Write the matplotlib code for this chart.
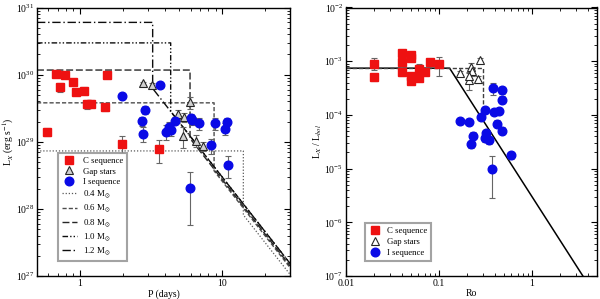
import matplotlib
matplotlib.use("Agg")
import matplotlib.pyplot as plt
import numpy as np
from matplotlib.ticker import FixedLocator, FixedFormatter, LogLocator, NullFormatter

plt.rcParams["font.family"] = "serif"
plt.rcParams["font.serif"] = ["Liberation Serif", "DejaVu Serif"]
plt.rcParams["mathtext.fontset"] = "stix"

# ---- left panel: L_X vs period ----
c_period = [0.588, 0.678, 0.72, 0.788, 0.897, 0.942, 1.07, 1.13, 1.195, 1.51, 1.55, 1.99, 3.62]
c_lx = [1.41e29, 1.03e30, 6.5e29, 9.8e29, 7.8e29, 5.5e29, 5.8e29, 3.6e29, 3.7e29,
        3.3e29, 9.9e29, 9.4e28, 7.8e28]
c_lx_err = [0.15, 0.08, 0.15, 0.08, 0.08, 0.1, 0.12, 0.15, 0.12, 0.12, 0.08, 0.28, 0.38]

gap_period = [2.79, 3.20, 5.98, 4.88, 5.43, 5.34, 6.59, 7.31]
gap_lx = [7.5e29, 6.9e29, 3.9e29, 2.6e29, 2.34e29, 1.23e29, 1.04e29, 8.7e28]
gap_lx_err = [0.05, 0.08, 0.2, 0.15, 0.15, 0.35, 0.2, 0.15]

i_period = [1.97, 2.87, 2.72, 2.80, 3.66, 4.64, 4.01, 4.25, 4.40, 6.08, 6.15, 6.92,
            8.88, 10.8, 10.5, 8.3, 10.97, 5.98]
i_lx = [4.8e29, 3.0e29, 2.04e29, 1.32e29, 7.1e29, 2.06e29, 1.42e29, 1.66e29, 1.51e29,
        2.23e29, 2.08e29, 1.88e29, 1.90e29, 1.99e29, 1.56e29, 8.9e28, 4.5e28, 2.08e28]
i_lx_err = [0.1, 0.15, 0.15, 0.25, 0.08, 0.12, 0.25, 0.2, 0.2, 0.15, 0.15, 0.2, 0.2,
            0.15, 0.2, 0.25, 0.35, 0.72]

# model tracks: saturated level, period of drop, coefficient of P^-2.7 decline
mass_labels = [r"0.4 M$_{\odot}$", r"0.6 M$_{\odot}$", r"0.8 M$_{\odot}$",
               r"1.0 M$_{\odot}$", r"1.2 M$_{\odot}$"]
l_sat = [7.3e28, 3.8e29, 1.17e30, 2.97e30, 6.0e30]
p_sat = [14.1, 8.78, 5.95, 4.35, 3.25]
decl_coef = [1.03e31, 1.3e31, 1.38e31, 1.5e31, 1.5e31]
decl_index = -2.7

# ---- right panel: L_X/L_bol vs Rossby number ----
c_ro = [0.0201, 0.0201, 0.040, 0.040, 0.040, 0.0496, 0.0504, 0.0496, 0.0504,
        0.0604, 0.0604, 0.0705, 0.0797, 0.0995]
c_ratio = [9.0e-4, 5.1e-4, 1.43e-3, 9.8e-4, 6.2e-4, 1.33e-3, 1.15e-3, 5.2e-4, 4.2e-4,
           7.2e-4, 4.9e-4, 6.4e-4, 9.5e-4, 8.7e-4]
c_ratio_err = [0.25, 0.15, 0.08, 0.08, 0.15, 0.08, 0.08, 0.1, 0.1, 0.25, 0.1, 0.08, 0.08, 0.38]

gap_ro = [0.169, 0.21, 0.221, 0.228, 0.264, 0.276, 0.212]
gap_ratio = [6.05e-4, 4.5e-4, 7.7e-4, 6.5e-4, 4.7e-4, 1.07e-3, 5.4e-4]
gap_ratio_err = [0.08, 0.35, 0.2, 0.2, 0.15, 0.08, 0.15]

i_ro = [0.17, 0.21, 0.23, 0.221, 0.283, 0.314, 0.32, 0.314, 0.341, 0.383, 0.481, 0.47,
        0.392, 0.444, 0.425, 0.47, 0.592, 0.371]
i_ratio = [7.6e-5, 7.5e-5, 4.1e-5, 2.86e-5, 9.1e-5, 1.21e-4, 4.6e-5, 3.65e-5, 3.45e-5,
           3.18e-4, 2.87e-4, 1.92e-4, 1.13e-4, 1.20e-4, 6.9e-5, 5.1e-5, 1.81e-5, 1.0e-5]
i_ratio_err = [0.12, 0.12, 0.15, 0.15, 0.12, 0.12, 0.15, 0.15, 0.15, 0.25, 0.15, 0.15,
               0.12, 0.12, 0.15, 0.15, 0.15, 0.72]

ratio_sat = 10 ** -3.13
ro_sat = 0.13
ro_gap_edge = 0.30
ratio_gap_low = 1.4e-4

RED = "#ee1111"
BLUE = "#0a0ae6"
ERRC = "0.4"


def plot_points(ax, x, y, frac, **kw):
    y = np.asarray(y)
    err = y * np.asarray(frac)
    ax.errorbar(x, y, yerr=err, fmt="none", ecolor=ERRC, elinewidth=0.8,
                capsize=2.2, capthick=0.8, zorder=2)
    return ax.plot(x, y, linestyle="none", zorder=3, **kw)[0]


def style_axes(ax):
    ax.tick_params(which="both", direction="in", top=True, right=True, labelsize=7, pad=2)
    ax.tick_params(which="major", length=4.5, width=0.8)
    ax.tick_params(which="minor", length=2.5, width=0.6)
    for s in ax.spines.values():
        s.set_linewidth(1.0)


fig = plt.figure(figsize=(6.0, 2.99), dpi=100)
ax1 = fig.add_axes([37 / 600, 23 / 299, 253 / 600, 268.5 / 299])
ax2 = fig.add_axes([346 / 600, 23 / 299, 251 / 600, 268.5 / 299])

# left
styles = [dict(ls=(0, (1, 1.5)), color="0.35", lw=0.9),
          dict(ls=(0, (3, 1.5)), color="0.3", lw=1.0),
          dict(ls=(0, (5, 2)), color="0.15", lw=1.0),
          dict(ls=(0, (4, 1.5, 1, 1.5, 1, 1.5)), color="0.05", lw=1.0),
          dict(ls=(0, (6, 2, 1, 2)), color="0.05", lw=1.0)]
line_handles = []
p_max = 30.0
for lab, ls_, ps, cc, st in zip(mass_labels, l_sat, p_sat, decl_coef, styles):
    px = [0.5, ps, ps, p_max]
    py = [ls_, ls_, cc * ps ** decl_index, cc * p_max ** decl_index]
    h, = ax1.plot(px, py, label=lab, zorder=1, **st)
    line_handles.append(h)

h_c = plot_points(ax1, c_period, c_lx, c_lx_err, marker="s", ms=5.2, color=RED, mec=RED)
h_g = plot_points(ax1, gap_period, gap_lx, gap_lx_err, marker="^", ms=5.2,
                  mfc="0.82", mec="0.15", mew=0.8)
h_i = plot_points(ax1, i_period, i_lx, i_lx_err, marker="o", ms=6.2, color=BLUE, mec=BLUE)

ax1.set_xscale("log")
ax1.set_yscale("log")
ax1.set_xlim(0.5, 30)
ax1.set_ylim(1e27, 1e31)
ax1.xaxis.set_major_locator(FixedLocator([1, 10]))
ax1.xaxis.set_major_formatter(FixedFormatter(["1", "10"]))
ax1.xaxis.set_minor_locator(LogLocator(base=10, subs=np.arange(2, 10)))
ax1.xaxis.set_minor_formatter(NullFormatter())
ax1.yaxis.set_minor_locator(LogLocator(base=10, subs=np.arange(2, 10)))
ax1.yaxis.set_minor_formatter(NullFormatter())
ax1.set_xlabel("P (days)", fontsize=7, labelpad=1)
ax1.set_ylabel(r"L$_X$ (erg s$^{-1}$)", fontsize=7, labelpad=0)
style_axes(ax1)

leg1 = ax1.legend([h_c, h_g, h_i] + line_handles,
                  ["C sequence", "Gap stars", "I sequence"] + mass_labels,
                  loc="lower left", bbox_to_anchor=(0.065, 0.04), fontsize=6.3,
                  frameon=True, fancybox=False, handlelength=1.7, handletextpad=0.7,
                  labelspacing=0.28, borderpad=0.45, numpoints=1)
leg1.get_frame().set_edgecolor("0.55")
leg1.get_frame().set_linewidth(1.5)

# right
ro_line = np.array([0.01, ro_sat, 5.0])
ratio_line = np.where(ro_line <= ro_sat, ratio_sat, ratio_sat * (ro_line / ro_sat) ** decl_index)
ax2.plot(ro_line, ratio_line, color="black", lw=1.1, zorder=1)
ax2.plot([0.01, ro_gap_edge, ro_gap_edge], [ratio_sat, ratio_sat, ratio_gap_low],
         color="0.25", lw=1.0, ls=(0, (3, 1.5)), zorder=1)

h_c2 = plot_points(ax2, c_ro, c_ratio, c_ratio_err, marker="s", ms=5.2, color=RED, mec=RED)
h_g2 = plot_points(ax2, gap_ro, gap_ratio, gap_ratio_err, marker="^", ms=5.2,
                   mfc="white", mec="0.15", mew=0.8)
h_i2 = plot_points(ax2, i_ro, i_ratio, i_ratio_err, marker="o", ms=6.2, color=BLUE, mec=BLUE)

ax2.set_xscale("log")
ax2.set_yscale("log")
ax2.set_xlim(0.01, 5)
ax2.set_ylim(1e-7, 1e-2)
ax2.xaxis.set_major_locator(FixedLocator([0.01, 0.1, 1]))
ax2.xaxis.set_major_formatter(FixedFormatter(["0.01", "0.1", "1"]))
ax2.xaxis.set_minor_locator(LogLocator(base=10, subs=np.arange(2, 10)))
ax2.xaxis.set_minor_formatter(NullFormatter())
ax2.yaxis.set_minor_locator(LogLocator(base=10, subs=np.arange(2, 10)))
ax2.yaxis.set_minor_formatter(NullFormatter())
ax2.set_xlabel("Ro", fontsize=7, labelpad=1)
ax2.set_ylabel(r"L$_X$ / L$_{bol}$", fontsize=7, labelpad=0)
style_axes(ax2)

leg2 = ax2.legend([h_c2, h_g2, h_i2], ["C sequence", "Gap stars", "I sequence"],
                  loc="lower left", bbox_to_anchor=(0.06, 0.04), fontsize=6.3,
                  frameon=True, fancybox=False, handlelength=1.2, handletextpad=0.8,
                  labelspacing=0.3, borderpad=0.45, numpoints=1)
leg2.get_frame().set_edgecolor("0.55")
leg2.get_frame().set_linewidth(1.5)

fig.savefig("out.png", dpi=100)
plt.close(fig)
